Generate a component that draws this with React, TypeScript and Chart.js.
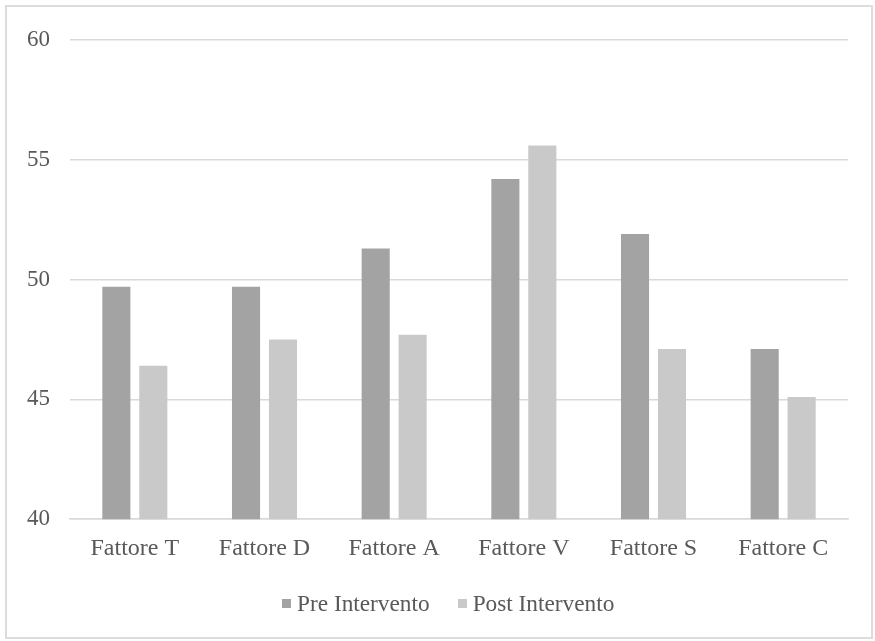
import React, { useEffect, useRef } from "react";
import { Chart, registerables } from "chart.js";

Chart.register(...registerables);

const categories = ["Fattore T", "Fattore D", "Fattore A", "Fattore V", "Fattore S", "Fattore C"];
const preValues = [49.7, 49.7, 51.3, 54.2, 51.9, 47.1];
const postValues = [46.4, 47.5, 47.7, 55.6, 47.1, 45.1];
const seriesNames = ["Pre Intervento", "Post Intervento"];
const seriesColors = ["#a3a3a3", "#c9c9c9"];

const FAMILY = "'Liberation Serif', 'Times New Roman', serif";

export default function App() {
  const ref = useRef<HTMLCanvasElement | null>(null);

  useEffect(() => {
    document.body.style.margin = "0";
    if (!ref.current) return;
    const chart = new Chart(ref.current, {
      type: "bar",
      data: {
        labels: categories,
        datasets: [
          {
            label: seriesNames[0],
            data: preValues,
            backgroundColor: seriesColors[0],
            categoryPercentage: 0.57,
            barPercentage: 0.76,
          },
          {
            label: seriesNames[1],
            data: postValues,
            backgroundColor: seriesColors[1],
            categoryPercentage: 0.57,
            barPercentage: 0.76,
          },
        ],
      },
      options: {
        responsive: false,
        animation: false,
        layout: { padding: { top: 40, right: 27, bottom: 63, left: 0 } },
        plugins: {
          tooltip: { enabled: false },
          legend: { display: false },
        },
        scales: {
          x: {
            grid: { display: false, drawTicks: false },
            border: { display: true, color: "#d9d9d9", width: 1.5 },
            ticks: { color: "#595959", font: { family: FAMILY, size: 24 }, padding: 15 },
          },
          y: {
            min: 40,
            max: 60,
            afterFit: (s: any) => {
              s.width = 70;
            },
            grid: { color: "#d9d9d9", lineWidth: 1.5, drawTicks: false },
            border: { display: false },
            ticks: { stepSize: 5, color: "#595959", font: { family: FAMILY, size: 23 }, padding: 20 },
          },
        },
      },
    });
    return () => chart.destroy();
  }, []);

  const itemStyle: React.CSSProperties = { display: "flex", alignItems: "center" };
  const boxStyle = (c: string): React.CSSProperties => ({
    width: 9,
    height: 9,
    background: c,
    marginRight: 6,
  });

  return (
    <div style={{ position: "relative", width: 875, height: 641, background: "#fff" }}>
      <canvas ref={ref} width={875} height={641} style={{ position: "absolute", left: 0, top: 0 }} />
      <div
        style={{
          position: "absolute",
          left: 282,
          top: 588,
          display: "flex",
          alignItems: "center",
          fontFamily: FAMILY,
          fontSize: 23.3,
          color: "#595959",
          lineHeight: "30px",
          whiteSpace: "nowrap",
        }}
      >
        <div style={{ ...itemStyle, marginRight: 28 }}>
          <div style={boxStyle(seriesColors[0])} />
          <span>{seriesNames[0]}</span>
        </div>
        <div style={itemStyle}>
          <div style={boxStyle(seriesColors[1])} />
          <span>{seriesNames[1]}</span>
        </div>
      </div>
      <div
        style={{
          position: "absolute",
          left: 5,
          top: 5,
          width: 864,
          height: 630,
          border: "2px solid #dcdcdc",
          pointerEvents: "none",
        }}
      />
    </div>
  );
}
